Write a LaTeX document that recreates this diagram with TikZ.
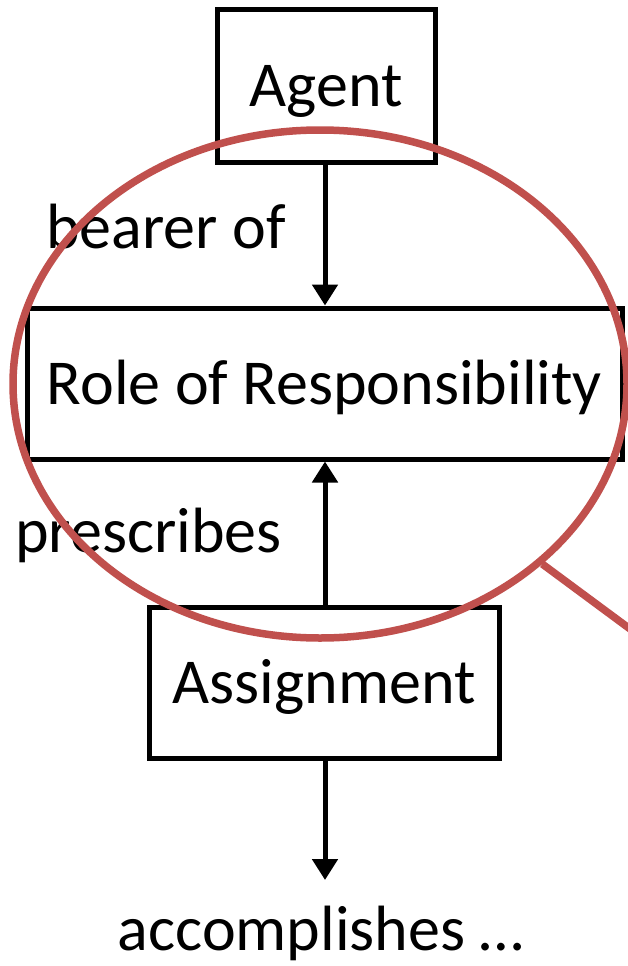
\documentclass[tikz,border=0pt]{standalone}
\usepackage{fontspec}
\setmainfont{Carlito}
\usetikzlibrary{arrows.meta,shapes.geometric}
\definecolor{ringred}{HTML}{C0504D}
\tikzset{
  box/.style={draw=black,line width=5pt,rectangle,inner sep=0pt,
    font=\fontsize{64}{64}\selectfont,text height=41pt,text depth=0pt},
  conn/.style={line width=5pt,-{Triangle[width=25pt,length=21pt]}},
  lbl/.style={anchor=base west,inner sep=0pt,font=\fontsize{64}{64}\selectfont},
  ring/.style={draw=ringred,line width=7.5pt,ellipse,inner sep=0pt}
}
\begin{document}
\begin{tikzpicture}[x=1pt,y=-1pt]
\useasboundingbox (0,0) rectangle (628,966);
\clip (0,0) rectangle (628,966);
\node[box,minimum width=218pt,minimum height=152pt] (agent) at (326,86) {Agent};
\node[box,minimum width=595pt,minimum height=151pt] (role) at (324.5,383.5) {Role of Responsibility};
\node[box,minimum width=350pt,minimum height=151pt] (assign) at (324,682.5) {Assignment};
\coordinate (acc) at (325,880);
\draw[conn] (agent.south -| 325,0) -- (role.north -| 325,0);
\draw[conn] (assign.north -| 325,0) -- (role.south -| 325,0);
\draw[conn] (assign.south -| 325,0) -- (acc);
\node[lbl] (bearer) at (46,248) {bearer of};
\node[lbl] (presc) at (15,552) {prescribes};
\node[lbl,anchor=base] (accl) at (321,950) {accomplishes …};
\node[ring,minimum width=614pt,minimum height=508pt] (ell) at (320,384) {};
\coordinate (handle) at (645,640);
\draw[ringred,line width=7.5pt] (ell.-39.5) -- (handle);
\end{tikzpicture}
\end{document}
